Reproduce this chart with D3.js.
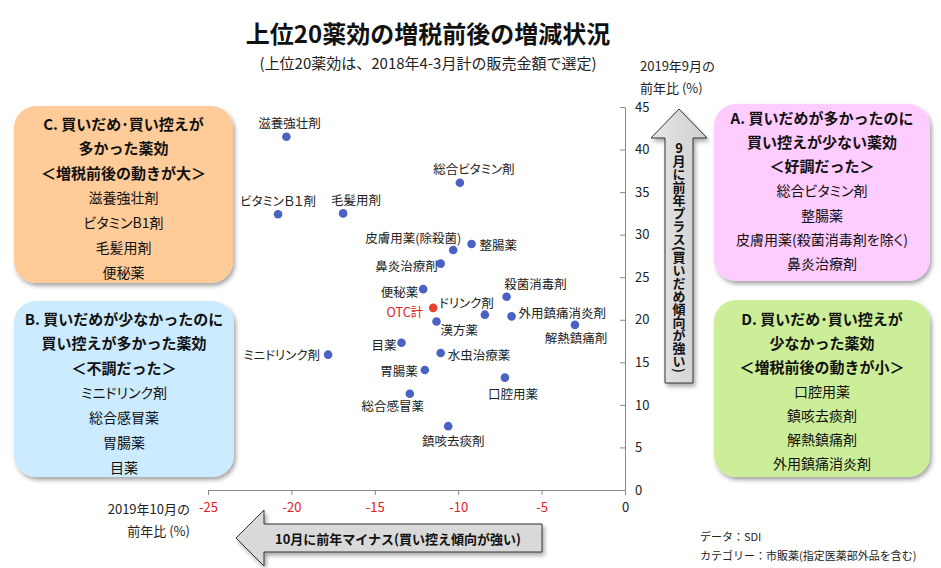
<!DOCTYPE html>
<html><head><meta charset="utf-8">
<script src="https://cdn.jsdelivr.net/npm/d3@7/dist/d3.min.js"></script>
<style>
body{margin:0;background:#fff}
svg text{font-family:"Noto Sans CJK JP","Noto Sans",sans-serif}
.palt{font-feature-settings:"palt" 1}
</style>
</head><body>
<svg id="chart" width="941" height="568"></svg>
<script>
// ---- data ----
const names = ["滋養強壮剤","総合ビタミン剤","ビタミンＢ１剤","毛髪用剤","皮膚用薬(除殺菌)","整腸薬","鼻炎治療剤","便秘薬","殺菌消毒剤","OTC計","ドリンク剤","外用鎮痛消炎剤","漢方薬","解熱鎮痛剤","目薬","ミニドリンク剤","水虫治療薬","胃腸薬","口腔用薬","総合感冒薬","鎮咳去痰剤"];
const octChange = [-20.3,-9.9,-20.8,-16.9,-10.3,-9.2,-11.05,-12.1,-7.1,-11.5,-8.4,-6.8,-11.3,-3.0,-13.4,-17.8,-11.05,-12.0,-7.2,-12.9,-10.6];
const sepChange = [41.5,36.1,32.4,32.5,28.2,28.9,26.6,23.6,22.7,21.4,20.6,20.4,19.8,19.4,17.3,15.9,16.1,14.1,13.2,11.3,7.5];
const isTotal = names.map(n => n === "OTC計");
const xTickValues = [-25,-20,-15,-10,-5,0];
const yTickValues = [0,5,10,15,20,25,30,35,40,45];

// label placement: [anchor, dx, dy] relative to the point
const labelLayout = [
  ["middle",3,-14],["middle",14,-14],["middle",0,-14],["middle",13,-14],
  ["end",8,-12],["start",8,0],["end",-3,2],["end",-5,2],
  ["middle",29,-13],["end",-10,4],["end",9,-12],["start",7,-4],
  ["start",4,8],["middle",1,13],["end",-5,2],["end",-8,0],
  ["start",7,2],["end",-7,1],["middle",8,16],["middle",-17,12],["middle",5,14]
];

const boxC = {title:["C. 買いだめ･買い控えが","多かった薬効","＜増税前後の動きが大＞"], items:["滋養強壮剤","ビタミンB1剤","毛髪用剤","便秘薬"]};
const boxB = {title:["B. 買いだめが少なかったのに","買い控えが多かった薬効","＜不調だった＞"], items:["ミニドリンク剤","総合感冒薬","胃腸薬","目薬"]};
const boxA = {title:["A. 買いだめが多かったのに","買い控えが少ない薬効","＜好調だった＞"], items:["総合ビタミン剤","整腸薬","皮膚用薬(殺菌消毒剤を除く)","鼻炎治療剤"]};
const boxD = {title:["D. 買いだめ･買い控えが","少なかった薬効","＜増税前後の動きが小＞"], items:["口腔用薬","鎮咳去痰剤","解熱鎮痛剤","外用鎮痛消炎剤"]};

// ---- drawing ----
const svg = d3.select("#chart");
const defs = svg.append("defs");
const f = defs.append("filter").attr("id","sh").attr("x","-10%").attr("y","-10%").attr("width","130%").attr("height","130%");
f.append("feDropShadow").attr("dx",2).attr("dy",3).attr("stdDeviation",2).attr("flood-color","#000").attr("flood-opacity",0.35);
const g1 = defs.append("linearGradient").attr("id","ag").attr("x1",0).attr("y1",0).attr("x2",1).attr("y2",0);
g1.append("stop").attr("offset","0%").attr("stop-color","#e6e6e6");
g1.append("stop").attr("offset","100%").attr("stop-color","#cfcfcf");

const x = d3.scaleLinear().domain([-25,0]).range([208,625]);
const y = d3.scaleLinear().domain([0,45]).range([490,107]);

// title
svg.append("text").attr("x",428).attr("y",32).attr("text-anchor","middle").attr("dominant-baseline","central")
  .attr("font-size",24).attr("font-weight","bold").attr("fill","#111").text("上位20薬効の増税前後の増減状況");
svg.append("text").attr("x",428).attr("y",62).attr("text-anchor","middle").attr("dominant-baseline","central")
  .attr("font-size",15).attr("fill","#222").text("(上位20薬効は、2018年4-3月計の販売金額で選定)");

// boxes
function drawBox(b, x0, y0, w, h, fill, firstY, step){
  svg.append("rect").attr("x",x0).attr("y",y0).attr("width",w).attr("height",h)
    .attr("rx",22).attr("ry",22).attr("fill",fill).attr("filter","url(#sh)");
  const cx = x0 + w/2;
  const lines = b.title.map(t=>({t,bold:true})).concat(b.items.map(t=>({t,bold:false})));
  svg.append("g").selectAll("text").data(lines).join("text")
    .attr("class",d=>d.bold?null:"palt")
    .attr("x",cx).attr("y",(d,i)=>firstY + i*step)
    .attr("text-anchor","middle").attr("dominant-baseline","central")
    .attr("font-size",d=>d.bold?15:14).attr("font-weight",d=>d.bold?"bold":"normal")
    .attr("fill","#111").text(d=>d.t);
}
drawBox(boxC,14,106,219,177,"#FFCC99",123,24.8);
drawBox(boxB,14,301,220,176,"#CCEBFF",318,24.8);
drawBox(boxA,714,104,216,177,"#FFCCFF",117,24.4);
drawBox(boxD,714,300,216,177,"#CCEE99",318,24.2);

// arrows
const up = d3.path();
up.moveTo(679,109); up.lineTo(707,138); up.lineTo(693,138); up.lineTo(693,383);
up.lineTo(665,383); up.lineTo(665,138); up.lineTo(651,138); up.closePath();
svg.append("path").attr("d",up.toString()).attr("fill","url(#ag)").attr("stroke","#333").attr("stroke-width",1).attr("filter","url(#sh)");
const vt = svg.append("text").attr("x",679).attr("y",142)
  .attr("style","writing-mode:vertical-rl;text-orientation:mixed")
  .attr("font-size",13).attr("font-weight","bold").attr("fill","#111");
vt.append("tspan").attr("style","text-orientation:upright").text("9");
vt.append("tspan").text("月に前年プラス(買いだめ傾向が強い)");

const left = d3.path();
left.moveTo(236,538); left.lineTo(264,510); left.lineTo(264,524); left.lineTo(542,524);
left.lineTo(542,552); left.lineTo(264,552); left.lineTo(264,566); left.closePath();
svg.append("path").attr("d",left.toString()).attr("fill","#d9d9d9").attr("stroke","#333").attr("stroke-width",1).attr("filter","url(#sh)");
svg.append("text").attr("x",398).attr("y",538).attr("text-anchor","middle").attr("dominant-baseline","central")
  .attr("font-size",13).attr("font-weight","bold").attr("fill","#111").text("10月に前年マイナス(買い控え傾向が強い)");

// axes
const xAxis = svg.append("g").attr("transform","translate(0,490)")
  .call(d3.axisBottom(x).tickValues(xTickValues).tickSizeInner(5).tickSizeOuter(0).tickPadding(8).tickFormat(d3.format("d")));
xAxis.select(".domain").attr("stroke","#888");
xAxis.selectAll(".tick line").attr("stroke","#888");
xAxis.selectAll(".tick text").attr("font-family","DejaVu Sans, sans-serif").attr("font-size",13)
  .attr("fill",d=>d<0?"#e02020":"#222").text(d=>d<0?"-"+Math.abs(d):d);

const yAxis = svg.append("g").attr("transform","translate(625,0)")
  .call(d3.axisRight(y).tickValues(yTickValues).tickSizeInner(-5).tickSizeOuter(0).tickPadding(10));
yAxis.select(".domain").attr("stroke","#888");
yAxis.selectAll(".tick line").attr("stroke","#888");
yAxis.selectAll(".tick text").attr("font-family","DejaVu Sans, sans-serif").attr("font-size",13).attr("fill","#222");

// axis titles
svg.append("text").attr("x",640).attr("y",65).attr("dominant-baseline","central").attr("font-size",13).attr("fill","#222").text("2019年9月の");
svg.append("text").attr("x",640).attr("y",87).attr("dominant-baseline","central").attr("font-size",13).attr("fill","#222").text("前年比 (%)");
svg.append("text").attr("x",190).attr("y",508).attr("text-anchor","end").attr("dominant-baseline","central").attr("font-size",13).attr("fill","#222").text("2019年10月の");
svg.append("text").attr("x",190).attr("y",530).attr("text-anchor","end").attr("dominant-baseline","central").attr("font-size",13).attr("fill","#222").text("前年比 (%)");

// points
const pts = names.map((n,i)=>({n, x:octChange[i], y:sepChange[i], total:isTotal[i], lay:labelLayout[i]}));
svg.append("g").selectAll("circle").data(pts).join("circle")
  .attr("cx",d=>x(d.x)).attr("cy",d=>y(d.y)).attr("r",4.3)
  .attr("fill",d=>d.total?"#e8412a":"#4a62c4");
svg.append("g").selectAll("text").data(pts).join("text")
  .attr("class","palt")
  .attr("x",d=>x(d.x)+d.lay[1]).attr("y",d=>y(d.y)+d.lay[2])
  .attr("text-anchor",d=>d.lay[0]).attr("dominant-baseline","central")
  .attr("font-size",12.5).attr("fill",d=>d.total?"#e02020":"#222").text(d=>d.n);

// notes
svg.append("text").attr("x",700).attr("y",536).attr("dominant-baseline","central").attr("font-size",11).attr("fill","#222").text("データ：SDI");
svg.append("text").attr("x",700).attr("y",555).attr("dominant-baseline","central").attr("font-size",11).attr("fill","#222").text("カテゴリー：市販薬(指定医薬部外品を含む)");
</script>
</body></html>
